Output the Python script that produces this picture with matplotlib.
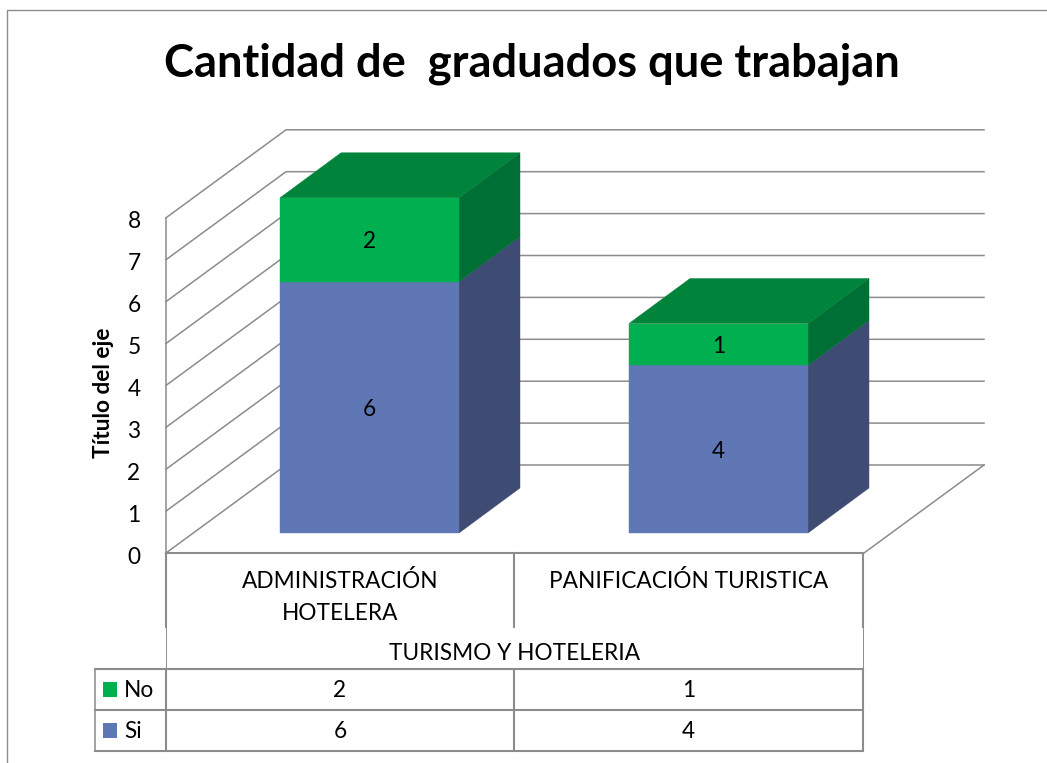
import matplotlib
matplotlib.use('Agg')
from matplotlib import pyplot as plt
import matplotlib.patches as patches

plt.rcParams['font.family'] = ['Lato', 'DejaVu Sans']

# data
title = 'Cantidad de  graduados que trabajan'
ylabel = 'Título del eje'
categories = ['ADMINISTRACIÓN\nHOTELERA', 'PANIFICACIÓN TURISTICA']
group = 'TURISMO Y HOTELERIA'
series_names = ['Si', 'No']
si_values = [6, 4]
no_values = [2, 1]
y_ticks = [0, 1, 2, 3, 4, 5, 6, 7, 8]

# colours
grid_col = '#8c8c8c'
si_front, si_side = '#5f77b5', '#3e4c74'
no_front, no_top, no_side = '#00b050', '#00843c', '#006f35'

# layout, in image pixels
W, H = 1047, 763
unit = 41.9
wall_x, wall_y0 = 166, 553
back_dx, back_dy = 120, -88
floor_w = 698
bar_y0 = 533
bar_left = [280, 629]
bar_w = 179
bar_dx, bar_dy = 61, -45
col_x = [166, 514, 863]
rows_y = [553, 627, 669, 710, 751]
legend_x = 95
fs = 16.3
dy_txt = 2


def val_px(v, base=wall_y0):
    return base - v * unit


def poly(ax, pts, col):
    ax.add_patch(patches.Polygon(pts, closed=True, facecolor=col, edgecolor=col, linewidth=0.3))


def box(ax, x, v0, v1, front, side, top=None):
    y0, y1 = val_px(v0, bar_y0), val_px(v1, bar_y0)
    poly(ax, [(x + bar_w, y0), (x + bar_w + bar_dx, y0 + bar_dy),
              (x + bar_w + bar_dx, y1 + bar_dy), (x + bar_w, y1)], side)
    poly(ax, [(x, y0), (x + bar_w, y0), (x + bar_w, y1), (x, y1)], front)
    if top:
        poly(ax, [(x, y1), (x + bar_w, y1), (x + bar_w + bar_dx, y1 + bar_dy), (x + bar_dx, y1 + bar_dy)], top)


def hv(ax, xs, ys, lw=1.5):
    ax.plot(xs, ys, color=grid_col, lw=lw, solid_capstyle='projecting', zorder=1)


def label(ax, x, y, s, **kw):
    ax.text(x, y + dy_txt, s, ha=kw.pop('ha', 'center'), va='center', fontsize=kw.pop('fontsize', fs), **kw)


fig = plt.figure(figsize=(W / 100, H / 100), dpi=100)
ax = fig.add_axes([0, 0, 1, 1])
ax.set_xlim(0, W)
ax.set_ylim(H, 0)
ax.axis('off')

# outer frame
hv(ax, [7, 7, W], [H, 10, 10], lw=1.0)

# walls and gridlines
for v in y_ticks:
    y = val_px(v)
    hv(ax, [wall_x, wall_x + back_dx, wall_x + back_dx + floor_w], [y, y + back_dy, y + back_dy], lw=1.1)
    label(ax, wall_x - 32, y + 2, str(v))
hv(ax, [wall_x, wall_x], [val_px(8), val_px(0)], lw=1.1)
hv(ax, [wall_x + back_dx + floor_w, wall_x + floor_w], [wall_y0 + back_dy, wall_y0], lw=1.1)

# stacked bars
for x, si, no in zip(bar_left, si_values, no_values):
    box(ax, x, 0, si, si_front, si_side)
    box(ax, x, si, si + no, no_front, no_side, no_top)
    cx = x + bar_w / 2
    label(ax, cx, val_px(si / 2, bar_y0), str(si))
    label(ax, cx, val_px(si + no / 2, bar_y0), str(no))

# data table
hv(ax, [col_x[0], col_x[2]], [rows_y[0], rows_y[0]])
hv(ax, [col_x[1], col_x[1]], [rows_y[0], rows_y[1]])
for x in (col_x[0], col_x[2]):
    hv(ax, [x, x], [rows_y[0], rows_y[1]])
    hv(ax, [x, x], [rows_y[1], rows_y[2]], lw=0.7)
    hv(ax, [x, x], [rows_y[2], rows_y[4]])
hv(ax, [col_x[1], col_x[1]], [rows_y[2], rows_y[4]])
for y in rows_y[2:]:
    hv(ax, [legend_x, col_x[2]], [y, y])
hv(ax, [legend_x, legend_x], [rows_y[2], rows_y[4]], lw=1.1)

cat_y = [595, 579]
for i, name in enumerate(categories):
    label(ax, (col_x[i] + col_x[i + 1]) / 2, cat_y[i], name, linespacing=1.65)
label(ax, (col_x[0] + col_x[2]) / 2, 651, group)

for r, vals, name, col in [(2, no_values, series_names[1], no_front), (3, si_values, series_names[0], si_front)]:
    ym = (rows_y[r] + rows_y[r + 1]) / 2
    for i, v in enumerate(vals):
        label(ax, (col_x[i] + col_x[i + 1]) / 2, ym - 1, str(v))
    ax.add_patch(patches.Rectangle((103, ym - 8), 14, 15, facecolor=col, edgecolor='none'))
    label(ax, 124, ym - 1, name, ha='left')

# title and axis label
ax.text(532, 64, title, ha='center', va='center', fontsize=32.6, fontweight='bold')
ax.text(103, 393, ylabel, rotation=90, ha='center', va='center', fontsize=16.3, fontweight='bold')

fig.savefig('out.png', dpi=100)
